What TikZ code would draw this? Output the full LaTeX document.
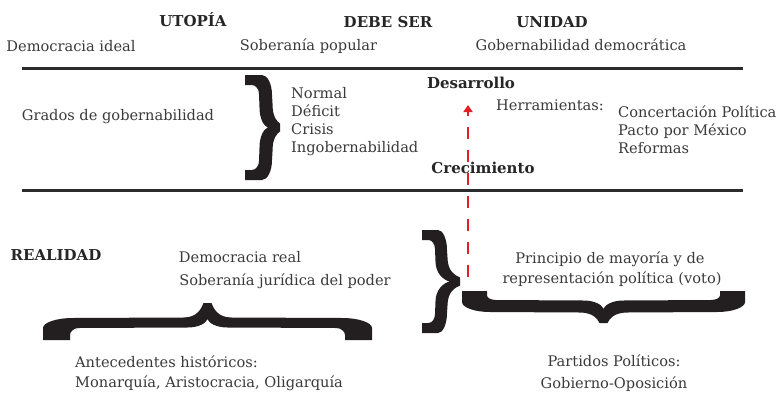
\documentclass[tikz,border=0pt]{standalone}
\usepackage{fontspec}
\setmainfont{DejaVu Serif}
\usetikzlibrary{arrows.meta}
\definecolor{txt}{HTML}{3A3A3A}
\definecolor{btxt}{HTML}{262626}
\definecolor{rulecol}{HTML}{2B2B2B}
\definecolor{bracecol}{HTML}{231F20}
\definecolor{redarr}{HTML}{E31E24}
\tikzset{
  lbl/.style={inner sep=0pt, text=txt, font=\fontsize{14.6}{17}\selectfont},
  blbl/.style={inner sep=0pt, text=btxt, font=\fontsize{15}{17}\selectfont\bfseries},
  rulel/.style={draw=rulecol, line width=3pt},
  redarrow/.style={draw=redarr, line width=2.2pt, dash pattern=on 12pt off 11pt,
     -{Triangle[length=7pt,width=9pt]}},
  % #1 length, #2 foot width, #3 outer arm level, #4 inner arm level,
  % #5 tip height, #6 inner cusp level, #7 end rise, #8 end curve length
  pics/bbrace/.style n args={8}{code={
    \fill[bracecol] (0,0) -- (0,#7) .. controls (0,{#7+0.55*(#3-#7)}) and ({0.45*#8},#3) .. (#8,#3)
     -- ({#1/2-24},{#3+0.5}) .. controls ({#1/2-10},{#3+0.5}) and ({#1/2-6},{#5-0.35*(#5-#3)}) .. ({#1/2-4},#5)
     -- ({#1/2+4},#5) .. controls ({#1/2+6},{#5-0.35*(#5-#3)}) and ({#1/2+10},{#3+0.5}) .. ({#1/2+24},{#3+0.5})
     -- ({#1-#8},#3) .. controls ({#1-0.45*#8},#3) and (#1,{#7+0.55*(#3-#7)}) .. (#1,#7) -- (#1,0)
     -- ({#1-#2},0) -- ({#1-#2},{0.4*#7}) .. controls ({#1-#2},{0.4*#7+0.55*(#4-0.4*#7)}) and ({#1-#2-4},#4) .. ({#1-#2-9},#4)
     -- ({#1/2+20},{#4+0.5}) .. controls ({#1/2+8},{#4+0.5}) and ({#1/2+1},{#6-0.4*(#6-#4)}) .. ({#1/2},#6)
     .. controls ({#1/2-1},{#6-0.4*(#6-#4)}) and ({#1/2-8},{#4+0.5}) .. ({#1/2-20},{#4+0.5})
     -- ({#2+9},#4) .. controls ({#2+4},#4) and (#2,{0.4*#7+0.55*(#4-0.4*#7)}) .. (#2,{0.4*#7}) -- (#2,0) -- cycle;
  }}
}
\begin{document}
\begin{tikzpicture}[x=1pt,y=-1pt]
\useasboundingbox[fill=white] (0,0) rectangle (780,394);
% headers
\node[blbl, anchor=base] (utopia) at (193,26) {UTOPÍA};
\node[blbl, anchor=base] (debeser) at (388,27) {DEBE SER};
\node[blbl, anchor=base] (unidad) at (552,27) {UNIDAD};
\node[lbl, anchor=base] (demideal) at (71,51) {Democracia ideal};
\node[lbl, anchor=base] (sobpop) at (308.5,50) {Soberanía popular};
\node[lbl, anchor=base] (gobdem) at (581,50) {Gobernabilidad democrática};
% rules
\coordinate (r1a) at (22,68); \coordinate (r1b) at (743,68);
\coordinate (r2a) at (22,190); \coordinate (r2b) at (743,190);
\draw[rulel] (r1a) -- (r1b);
\draw[rulel] (r2a) -- (r2b);
% middle band
\node[lbl, anchor=base] (grados) at (118,120) {Grados de gobernabilidad};
\pic[cm={0,-1,-1,0,(0,0)}] at (245,75) {bbrace={105}{10}{27}{14}{35}{23}{17}{20}};
\node[lbl, anchor=base west] (normal) at (291,98) {Normal};
\node[lbl, anchor=base west] (deficit) at (291,116) {Déficit};
\node[lbl, anchor=base west] (crisis) at (291,134) {Crisis};
\node[lbl, anchor=base west] (ingob) at (291,152) {Ingobernabilidad};
\node[blbl, anchor=base] (desarrollo) at (471,88) {Desarrollo};
\node[lbl, anchor=base] (herr) at (550,110) {Herramientas:};
\node[lbl, anchor=base west] (concert) at (618,117) {Concertación Política};
\node[lbl, anchor=base west] (pacto) at (618,135) {Pacto por México};
\node[lbl, anchor=base west] (reformas) at (618,153) {Reformas};
\node[blbl, anchor=base] (crec) at (483,173) {Crecimiento};
% red arrow
\coordinate (arrS) at (468,277);
\coordinate (arrE) at (468,105);
\draw[redarrow] (arrS) -- (arrE);
% lower band
\node[blbl, anchor=base] (realidad) at (56,260) {REALIDAD};
\node[lbl, anchor=base] (demreal) at (240,262) {Democracia real};
\node[lbl, anchor=base] (sobjur) at (285,285) {Soberanía jurídica del poder};
\pic[yscale=-1] at (43,340) {bbrace={329}{27}{22}{12}{37}{21}{12}{30}};
\node[lbl, anchor=base west] (antec) at (75,367) {Antecedentes históricos:};
\node[lbl, anchor=base west] (monar) at (75,387) {Monarquía, Aristocracia, Oligarquía};
\pic[cm={0,-1,-1,0,(0,0)}] at (422,230) {bbrace={103}{10}{25}{13}{38}{28}{16}{20}};
\node[lbl, anchor=base] (princ) at (610,263) {Principio de mayoría y de};
\node[lbl, anchor=base] (repres) at (612,283) {representación política (voto)};
\pic at (462,291) {bbrace={283}{25}{21}{9}{32}{18}{11}{28}};
\node[lbl, anchor=base] (partidos) at (614,366) {Partidos Políticos:};
\node[lbl, anchor=base] (gobop) at (614,388) {Gobierno-Oposición};
\end{tikzpicture}
\end{document}
